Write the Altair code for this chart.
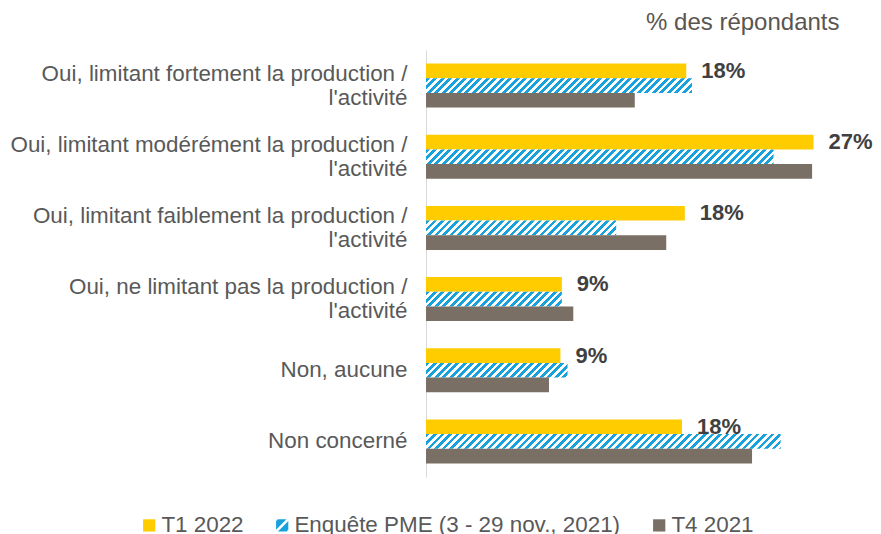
import altair as alt
import pandas as pd

# ---------------- data ----------------
CATEGORIES = [
    "Oui, limitant fortement la production / l'activité",
    "Oui, limitant modérément la production / l'activité",
    "Oui, limitant faiblement la production / l'activité",
    "Oui, ne limitant pas la production / l'activité",
    "Non, aucune",
    "Non concerné",
]
SERIES = ["T1 2022", "Enquête PME (3 - 29 nov., 2021)", "T4 2021"]
T1_2022 = [18.2, 27.1, 18.1, 9.5, 9.4, 17.9]
ENQUETE_PME = [18.6, 24.3, 13.3, 9.5, 9.9, 24.8]
T4_2021 = [14.6, 27.0, 16.8, 10.3, 8.6, 22.8]
T1_LABELS = ["18%", "27%", "18%", "9%", "9%", "18%"]

# ---------------- style ----------------
FONT = "Liberation Sans"
YELLOW = "#FFCC00"
BLUE = "#17A2DE"
WHITE = "#FFFFFF"
GRAY = "#7A6F65"
TEXT = "#595959"
BOLD_TEXT = "#404040"
X_MAX = 30
PLOT_W = 429
PLOT_H = 427
PAD_LEFT = 418
PAD_INNER = 0.382
PAD_OUTER = PAD_INNER / 2
BAR_H = PLOT_H / (len(CATEGORIES) - PAD_INNER + 2 * PAD_OUTER) * (1 - PAD_INNER) / len(SERIES)
PERIOD = 7.5  # hatch period in px
LINE_H = 24

# Arial / Liberation Sans advance widths (1/1000 em) to centre the 2nd label line
WIDTHS = {'O': 778, 'u': 556, 'i': 222, ',': 278, ' ': 278, 'l': 222, 'm': 833, 't': 278,
          'a': 556, 'n': 556, 'f': 278, 'o': 556, 'r': 333, 'e': 556, 'p': 556, 'd': 556,
          'c': 500, '/': 278, 'é': 556, "'": 191, 'v': 500, 'b': 556, 's': 500}
NBSP_W = 278


def text_width(s):
    return sum(WIDTHS.get(ch, 556) for ch in s)


def display_label(cat):
    if " / " not in cat:
        return cat
    first, second = cat.split(" / ")
    first = first + " /"
    n = round((text_width(first) - text_width(second)) / 2 / NBSP_W)
    return first + "\n" + second + "\u00a0" * n


def hatch(value):
    w = value * PLOT_W / X_MAX
    h = BAR_H
    k = (w + h) / (w + h * h / w)
    dt = PERIOD / (w + h)
    stops = []
    t = 0.0
    while t < 1:
        a, b, c = min(t, 1), min(t + dt / 2, 1), min(t + dt, 1)
        stops += [{"offset": a, "color": BLUE}, {"offset": b, "color": BLUE},
                  {"offset": b, "color": WHITE}, {"offset": c, "color": WHITE}]
        t += dt
    return {"gradient": "linear", "x1": 0, "y1": 0, "x2": k, "y2": k * h / w, "stops": stops}


LABELS = [display_label(c) for c in CATEGORIES]

rows = []
for i, lab in enumerate(LABELS):
    rows.append({"cat": lab, "series": SERIES[0], "value": T1_2022[i], "fill": YELLOW, "label": T1_LABELS[i]})
    rows.append({"cat": lab, "series": SERIES[1], "value": ENQUETE_PME[i], "fill": hatch(ENQUETE_PME[i]), "label": ""})
    rows.append({"cat": lab, "series": SERIES[2], "value": T4_2021[i], "fill": GRAY, "label": ""})
data = alt.Data(values=rows)

y_enc = alt.Y("cat:N", sort=LABELS,
              scale=alt.Scale(paddingInner=PAD_INNER, paddingOuter=PAD_OUTER),
              axis=alt.Axis(title=None, labelExpr="split(datum.label, '\\n')",
                            labelFontSize=22.4, labelFont=FONT, labelColor=TEXT,
                            labelLimit=700, labelPadding=21 - (428 - 8 - PAD_LEFT),
                            labelLineHeight=LINE_H,
                            labelOffset={"condition": {"test": "indexof(datum.value, '\\n') >= 0",
                                                       "value": -LINE_H / 2}, "value": 0},
                            ticks=False, grid=False, domainColor="#D9D9D9", domainWidth=1))
x_enc = alt.X("value:Q", scale=alt.Scale(domain=[0, X_MAX], nice=False, zero=True),
              axis=alt.Axis(orient="top", title="% des répondants", labels=False, ticks=False,
                            domain=False, grid=False, titleX=839 - 8 - PAD_LEFT, titleY=-21,
                            titleAlign="right", titleAnchor="end", titleBaseline="alphabetic",
                            titleFont=FONT, titleFontSize=24, titleFontWeight="normal",
                            titleColor="#5A5550"))
yoff = alt.YOffset("series:N", sort=SERIES, scale=alt.Scale(paddingInner=0, paddingOuter=0))

bars = alt.Chart(data).mark_bar().encode(
    x=x_enc, y=y_enc, yOffset=yoff,
    fill=alt.Fill("fill:N", scale=None),
)

labels = alt.Chart(data).transform_filter(alt.datum.label != "").mark_text(
    align="left", baseline="middle", dx=15, font=FONT, fontSize=22,
    fontWeight="bold", color=BOLD_TEXT,
).encode(x=x_enc, y=y_enc, yOffset=yoff, text="label:N")

HATCH_PATH = "M1,-0.7L1,0.7L0.7,1L-0.7,1Z M-1,0.7L-1,-0.7L-0.7,-1L0.7,-1Z"
leg = alt.Legend(title=None, orient="none", legendX=142 - 8 - PAD_LEFT - 4, legendY=464,
                 direction="horizontal",
                 columns=3, labelFontSize=22.4, labelFont=FONT, labelColor=TEXT, labelLimit=500,
                 symbolSize=150, symbolStrokeWidth=0, labelOffset=1, columnPadding=27, padding=0)
legend_layer = alt.Chart(data).transform_filter("false").mark_point(filled=True, opacity=1).encode(
    color=alt.Color("series:N", scale=alt.Scale(domain=SERIES, range=[YELLOW, BLUE, GRAY]), legend=leg),
    shape=alt.Shape("series:N", scale=alt.Scale(domain=SERIES, range=["square", HATCH_PATH, "square"]), legend=leg),
)

chart = alt.layer(bars, labels, legend_layer).properties(
    width=PLOT_W, height=PLOT_H,
    autosize=alt.AutoSizeParams(type="none"),
    padding={"left": PAD_LEFT, "top": 42, "right": 865 - PAD_LEFT - PLOT_W, "bottom": 60},
).configure_view(stroke=None)

chart.save("out.html", embed_options={"renderer": "svg", "actions": False})
